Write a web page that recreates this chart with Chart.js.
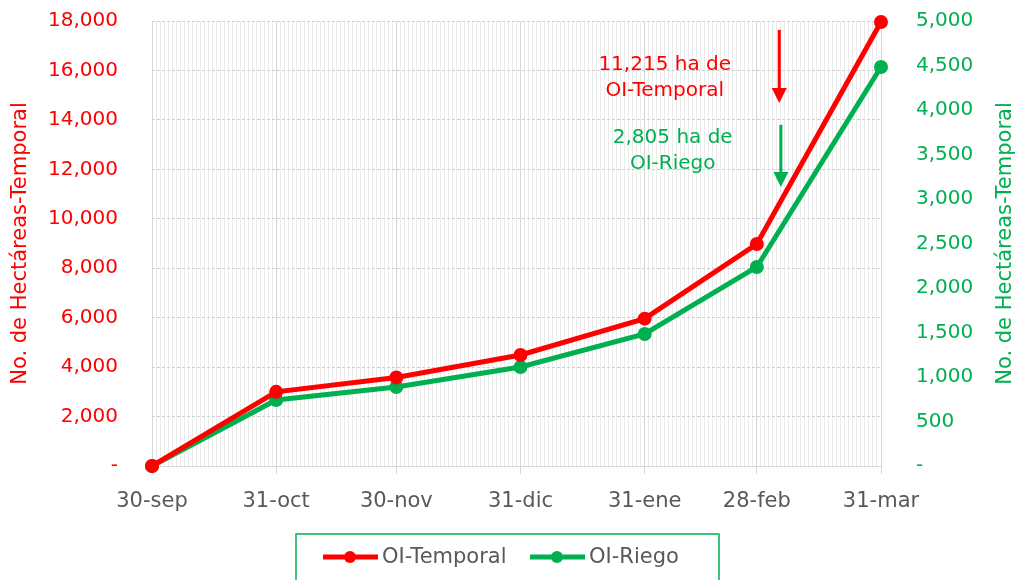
<!DOCTYPE html>
<html>
<head>
<meta charset="utf-8">
<script src="https://cdn.jsdelivr.net/npm/chart.js@4.4.1/dist/chart.umd.min.js"></script>
<style>
html,body{margin:0;padding:0;background:#fff;}
#wrap{width:1015px;height:580px;position:relative;}
</style>
</head>
<body>
<div id="wrap"><canvas id="c" width="1015" height="580"></canvas></div>
<script>
// ---- data ----
const dayOffsets = [0, 31, 61, 92, 123, 151, 182];
const dateLabels = ['30-sep', '31-oct', '30-nov', '31-dic', '31-ene', '28-feb', '31-mar'];
const temporal = [0, 3000, 3580, 4490, 5960, 8980, 17960];
const riego = [0, 742, 888, 1112, 1483, 2236, 4483];
const seriesNames = ['OI-Temporal', 'OI-Riego'];
const leftTicks = [0, 2000, 4000, 6000, 8000, 10000, 12000, 14000, 16000, 18000];
const rightTicks = [0, 500, 1000, 1500, 2000, 2500, 3000, 3500, 4000, 4500, 5000];
const axisTitle = 'No. de Hectáreas-Temporal';
const noteTemporal = ['11,215 ha de', 'OI-Temporal'];
const noteRiego = ['2,805 ha de', 'OI-Riego'];

const RED = '#ff0000';
const GREEN = '#00b050';
const GRAY = '#595959';
const FONT = '"DejaVu Sans", sans-serif';

const allDays = [];
for (let d = dayOffsets[0]; d <= dayOffsets[dayOffsets.length - 1]; d++) allDays.push(d);

const fmt = v => v === 0 ? '-' : v.toLocaleString('en-US');

const extras = {
  id: 'extras',
  afterDatasetsDraw(chart) {
    const ctx = chart.ctx;
    const xs = chart.scales.x, yl = chart.scales.y;
    const ca = chart.chartArea;
    ctx.save();
    // annotation texts
    ctx.font = '20px ' + FONT;
    ctx.textAlign = 'center';
    ctx.textBaseline = 'middle';
    ctx.fillStyle = RED;
    ctx.fillText(noteTemporal[0], xs.getPixelForValue(128), yl.getPixelForValue(16220));
    ctx.fillText(noteTemporal[1], xs.getPixelForValue(128), yl.getPixelForValue(15169));
    ctx.fillStyle = GREEN;
    ctx.fillText(noteRiego[0], xs.getPixelForValue(130), yl.getPixelForValue(13267));
    ctx.fillText(noteRiego[1], xs.getPixelForValue(130), yl.getPixelForValue(12216));
    // arrows
    function arrow(x, y0, y1, color) {
      ctx.strokeStyle = color; ctx.fillStyle = color; ctx.lineWidth = 3;
      ctx.beginPath(); ctx.moveTo(x, y0); ctx.lineTo(x, y1 - 14); ctx.stroke();
      ctx.beginPath(); ctx.moveTo(x - 7.5, y1 - 15); ctx.lineTo(x + 7.5, y1 - 15); ctx.lineTo(x, y1); ctx.closePath(); ctx.fill();
    }
    arrow(xs.getPixelForValue(156.6), yl.getPixelForValue(17640), yl.getPixelForValue(14680), RED);
    arrow(xs.getPixelForValue(157), yl.getPixelForValue(13800), yl.getPixelForValue(11290), GREEN);
    // right axis title (reads bottom to top)
    ctx.save();
    ctx.translate(1006, (ca.top + ca.bottom) / 2);
    ctx.rotate(-Math.PI / 2);
    ctx.font = '21px ' + FONT;
    ctx.fillStyle = GREEN;
    ctx.textAlign = 'center';
    ctx.textBaseline = 'middle';
    ctx.fillText(axisTitle, 0, 0);
    ctx.restore();
    // legend
    const cx = chart.width / 2;
    const bx0 = cx - 211.5, bx1 = cx + 211.5, by0 = 534;
    ctx.strokeStyle = GREEN; ctx.lineWidth = 1.5;
    ctx.strokeRect(bx0, by0, bx1 - bx0, 60);
    const ly = 557;
    const items = [
      {x: bx0 + 27, color: RED, label: chart.data.datasets[0].label},
      {x: bx0 + 234, color: GREEN, label: chart.data.datasets[1].label}
    ];
    ctx.font = '21px ' + FONT;
    ctx.textAlign = 'left';
    ctx.textBaseline = 'middle';
    items.forEach(it => {
      ctx.strokeStyle = it.color; ctx.lineWidth = 5;
      ctx.beginPath(); ctx.moveTo(it.x, ly); ctx.lineTo(it.x + 55, ly); ctx.stroke();
      ctx.fillStyle = it.color;
      ctx.beginPath(); ctx.arc(it.x + 27, ly, 6, 0, Math.PI * 2); ctx.fill();
      ctx.fillStyle = GRAY;
      ctx.fillText(it.label, it.x + 59, ly + 1);
    });
    ctx.restore();
  }
};

new Chart(document.getElementById('c'), {
  type: 'line',
  data: {
    datasets: [
      {
        label: seriesNames[0],
        data: dayOffsets.map((d, i) => ({x: d, y: temporal[i]})),
        yAxisID: 'y',
        borderColor: RED, backgroundColor: RED,
        borderWidth: 5, pointRadius: 7, pointHoverRadius: 7,
        pointBorderWidth: 0, tension: 0, clip: false
      },
      {
        label: seriesNames[1],
        data: dayOffsets.map((d, i) => ({x: d, y: riego[i]})),
        yAxisID: 'y1',
        borderColor: GREEN, backgroundColor: GREEN,
        borderWidth: 5, pointRadius: 7, pointHoverRadius: 7,
        pointBorderWidth: 0, tension: 0, clip: false
      }
    ]
  },
  options: {
    responsive: false,
    animation: false,
    events: [],
    layout: {autoPadding: false, padding: {top: 21, bottom: 66, left: 0, right: 0}},
    plugins: {legend: {display: false}, tooltip: {enabled: false}},
    scales: {
      x: {
        type: 'linear',
        min: dayOffsets[0],
        max: dayOffsets[dayOffsets.length - 1],
        afterBuildTicks: s => { s.ticks = allDays.map(v => ({value: v})); },
        afterFit: s => { s.height = 48; s.paddingLeft = 0; s.paddingRight = 0; },
        ticks: {
          autoSkip: false, maxRotation: 0, minRotation: 0,
          padding: 15,
          color: GRAY,
          font: {family: FONT, size: 21},
          callback: v => { const i = dayOffsets.indexOf(v); return i >= 0 ? dateLabels[i] : ''; }
        },
        grid: {
          color: c => dayOffsets.includes(c.tick && c.tick.value) ? '#d6d6d6' : '#ebebeb',
          tickColor: c => dayOffsets.includes(c.tick && c.tick.value) ? '#d6d6d6' : 'rgba(0,0,0,0)',
          tickLength: 8,
          lineWidth: 1
        },
        border: {display: true, color: '#d6d6d6', width: 1}
      },
      y: {
        position: 'left',
        min: 0, max: 18000,
        afterBuildTicks: s => { s.ticks = leftTicks.map(v => ({value: v})); },
        afterFit: s => { s.width = 152; s.paddingTop = 0; s.paddingBottom = 0; },
        ticks: {color: RED, padding: 34, font: {family: FONT, size: 20}, callback: v => fmt(v)},
        grid: {color: '#d0d0d0', drawTicks: false, lineWidth: 1},
        border: {display: false, dash: [3, 2]},
        title: {display: true, text: axisTitle, color: RED, font: {family: FONT, size: 21}, padding: {top: 8, bottom: 0}}
      },
      y1: {
        position: 'right',
        min: 0, max: 5000,
        afterBuildTicks: s => { s.ticks = rightTicks.map(v => ({value: v})); },
        afterFit: s => { s.width = 134; s.paddingTop = 0; s.paddingBottom = 0; },
        ticks: {color: GREEN, padding: 35, font: {family: FONT, size: 20}, callback: v => fmt(v)},
        grid: {display: false, drawTicks: false},
        border: {display: false}
      }
    }
  },
  plugins: [extras]
});
</script>
</body>
</html>
